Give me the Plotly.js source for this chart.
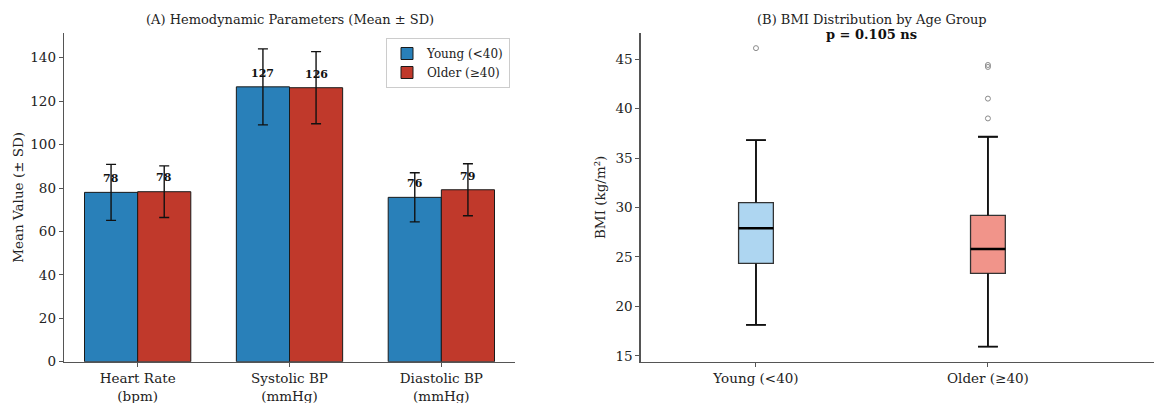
<!DOCTYPE html>
<html>
<head>
<meta charset="utf-8">
<script src="https://cdn.plot.ly/plotly-3.0.1.min.js"></script>
<style>html,body{margin:0;padding:0;background:#fff;}#chart{width:1154px;height:403px;}</style>
</head>
<body>
<div id="chart"></div>
<script>
// ---- Panel A data ----
const paramCategories = ["Heart Rate<br>(bpm)", "Systolic BP<br>(mmHg)", "Diastolic BP<br>(mmHg)"];
const youngMeans = [78.0, 126.6, 75.7];
const youngSD = [12.9, 17.5, 11.3];
const olderMeans = [78.3, 126.2, 79.2];
const olderSD = [11.9, 16.6, 12.0];
const seriesNames = ["Young (<40)", "Older (≥40)"];

// ---- Panel B data ----
const groupLabels = ["Young (<40)", "Older (≥40)"];
const bmiQ1 = [24.35, 23.35];
const bmiMedian = [27.9, 25.8];
const bmiQ3 = [30.5, 29.2];
const bmiLowerFence = [18.15, 15.95];
const bmiUpperFence = [36.8, 37.15];
const youngOutliers = [46.1];
const olderOutliers = [44.4, 44.2, 41.0, 39.0];

const FONT = "DejaVu Serif, Liberation Serif, serif";
const TXT = "#222";
const BLUE = "#2980b9", RED = "#c0392b";

const traces = [
  {
    type: "bar", name: seriesNames[0], x: paramCategories, y: youngMeans,
    marker: {color: BLUE, line: {color: "#1a1a1a", width: 1}},
    error_y: {type: "data", array: youngSD, visible: true, color: "#111", thickness: 1.4, width: 5},
    xaxis: "x", yaxis: "y", hoverinfo: "skip"
  },
  {
    type: "bar", name: seriesNames[1], x: paramCategories, y: olderMeans,
    marker: {color: RED, line: {color: "#1a1a1a", width: 1}},
    error_y: {type: "data", array: olderSD, visible: true, color: "#111", thickness: 1.4, width: 5},
    xaxis: "x", yaxis: "y", hoverinfo: "skip"
  }
];

const BOXW = 0.15;
const boxFills = ["#aed6f1", "#f1948a"];
groupLabels.forEach((g, i) => {
  traces.push({
    type: "box", x: [g], q1: [bmiQ1[i]], median: [bmiMedian[i]], q3: [bmiQ3[i]],
    lowerfence: [bmiLowerFence[i]], upperfence: [bmiUpperFence[i]],
    fillcolor: boxFills[i], line: {color: "#333", width: 1.3},
    width: BOXW, whiskerwidth: 0.57, boxpoints: false,
    xaxis: "x2", yaxis: "y2", showlegend: false, hoverinfo: "skip"
  });
});
traces.push({
  type: "scatter", mode: "markers",
  x: youngOutliers.map(() => groupLabels[0]).concat(olderOutliers.map(() => groupLabels[1])),
  y: youngOutliers.concat(olderOutliers),
  marker: {symbol: "circle-open", size: 5, color: "#8a8a8a", line: {width: 1}},
  xaxis: "x2", yaxis: "y2", showlegend: false, hoverinfo: "skip"
});

// Thicker median and whisker lines drawn over the boxes
const shapes = [];
const capHalf = BOXW * 0.57 / 2;
groupLabels.forEach((g, i) => {
  shapes.push({type: "line", xref: "x2", yref: "y2", x0: i - BOXW/2, x1: i + BOXW/2,
    y0: bmiMedian[i], y1: bmiMedian[i], line: {color: "#000", width: 2.6}});
  shapes.push({type: "line", xref: "x2", yref: "y2", x0: i, x1: i,
    y0: bmiQ3[i], y1: bmiUpperFence[i], line: {color: "#111", width: 1.8}});
  shapes.push({type: "line", xref: "x2", yref: "y2", x0: i, x1: i,
    y0: bmiQ1[i], y1: bmiLowerFence[i], line: {color: "#111", width: 1.8}});
  shapes.push({type: "line", xref: "x2", yref: "y2", x0: i - capHalf, x1: i + capHalf,
    y0: bmiUpperFence[i], y1: bmiUpperFence[i], line: {color: "#111", width: 1.8}});
  shapes.push({type: "line", xref: "x2", yref: "y2", x0: i - capHalf, x1: i + capHalf,
    y0: bmiLowerFence[i], y1: bmiLowerFence[i], line: {color: "#111", width: 1.8}});
});

const annotations = [];
const offs = [-0.175, 0.175];
[youngMeans, olderMeans].forEach((arr, s) => {
  arr.forEach((v, i) => {
    annotations.push({
      xref: "x", yref: "y", x: i + offs[s], y: v + 2.4, yanchor: "bottom", xanchor: "center",
      text: "<b>" + Math.round(v) + "</b>", showarrow: false,
      font: {family: FONT, size: 11, color: "#111"}
    });
  });
});
annotations.push({
  xref: "paper", yref: "paper", x: 289.5/1154, y: 1 - 19/403, xanchor: "center", yanchor: "middle",
  text: "(A) Hemodynamic Parameters (Mean ± SD)", showarrow: false,
  font: {family: FONT, size: 13, color: TXT}
});
annotations.push({
  xref: "paper", yref: "paper", x: 871.5/1154, y: 1 - 19/403, xanchor: "center", yanchor: "middle",
  text: "(B) BMI Distribution by Age Group", showarrow: false,
  font: {family: FONT, size: 13, color: TXT}
});
annotations.push({
  xref: "paper", yref: "paper", x: 871.5/1154, y: 1 - 34.5/403, xanchor: "center", yanchor: "middle",
  text: "<b>p = 0.105 ns</b>", showarrow: false,
  font: {family: FONT, size: 13, color: "#111"}
});

const axisCommon = {
  showline: true, linecolor: "#555", linewidth: 1.3, mirror: false,
  showgrid: false, zeroline: false, ticks: "outside", ticklen: 4, tickcolor: "#555", tickwidth: 1,
  tickfont: {family: FONT, size: 13.5, color: TXT}
};
const yDomain = [1 - 361.7/403, 1 - 33/403];

const layout = {
  width: 1154, height: 403,
  margin: {l: 0, r: 0, t: 0, b: 0},
  paper_bgcolor: "#fff", plot_bgcolor: "#fff",
  font: {family: FONT, color: TXT},
  barmode: "group", bargap: 0.3, bargroupgap: 0,
  showlegend: true,
  legend: {
    x: 510/1154, y: 1 - 38/403, xanchor: "right", yanchor: "top",
    bgcolor: "rgba(255,255,255,0.9)", bordercolor: "#ccc", borderwidth: 1,
    font: {family: FONT, size: 12, color: TXT}, tracegroupgap: 0
  },
  xaxis: Object.assign({}, axisCommon, {
    domain: [64/1154, 515/1154], anchor: "y", type: "category",
    range: [-0.485, 2.485]
  }),
  yaxis: Object.assign({}, axisCommon, {
    domain: yDomain, anchor: "x", range: [0, 151.4], dtick: 20,
    title: {text: "Mean Value (± SD)", font: {family: FONT, size: 13.5, color: TXT}, standoff: 3}
  }),
  xaxis2: Object.assign({}, axisCommon, {
    domain: [640.7/1154, 1], anchor: "y2", type: "category",
    range: [-0.497, 1.716]
  }),
  yaxis2: Object.assign({}, axisCommon, {
    domain: yDomain, anchor: "x2", range: [14.42, 47.63], dtick: 5,
    title: {text: "BMI (kg/m²)", font: {family: FONT, size: 13.5, color: TXT}, standoff: 6}
  }),
  shapes: shapes,
  annotations: annotations
};

Plotly.newPlot("chart", traces, layout, {displayModeBar: false, staticPlot: true});
</script>
</body>
</html>
